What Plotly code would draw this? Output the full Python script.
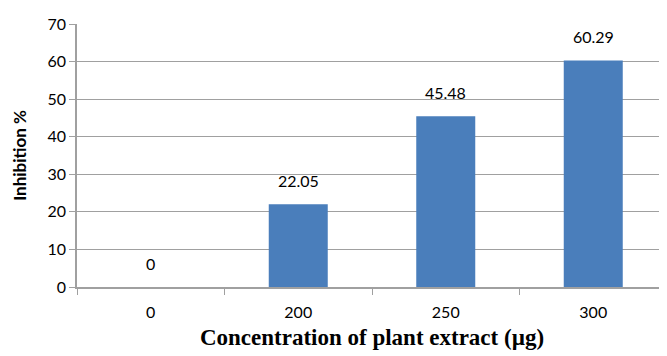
import plotly.graph_objects as go

categories = ["0", "200", "250", "300"]
inhibition = [0, 22.05, 45.48, 60.29]
labels = ["0", "22.05", "45.48", "60.29"]
y_ticks = [0, 10, 20, 30, 40, 50, 60, 70]

fig = go.Figure()
fig.add_trace(go.Bar(
    x=categories, y=inhibition,
    marker=dict(color="#4A7EBB", line=dict(width=0)),
    hoverinfo="skip",
))

for i, (v, t) in enumerate(zip(inhibition, labels)):
    fig.add_annotation(x=i, y=v, text=t, showarrow=False, yanchor="bottom", yshift=12,
                       font=dict(family="Lato, Open Sans, sans-serif", size=16, color="#000000"))

fig.update_layout(
    width=667, height=356,
    margin=dict(l=69, r=8, t=16, b=77, autoexpand=False),
    paper_bgcolor="white", plot_bgcolor="white",
    bargap=0.6,
    showlegend=False,
    xaxis=dict(
        type="category", range=[-0.5, 3.5],
        showline=True, linecolor="#A0A0A0", linewidth=1.5,
        ticks="outside", tickson="boundaries", ticklen=6, tickcolor="#A0A0A0",
        ticklabelstandoff=10,
        tickfont=dict(family="Lato, Open Sans, sans-serif", size=16, color="#000000"),
        showgrid=False,
        title=dict(text="<b>Concentration of plant extract (µg)</b>", standoff=9,
                   font=dict(family="Liberation Serif, Times New Roman, serif", size=23, color="#000000")),
    ),
    yaxis=dict(
        range=[0, 70], tickvals=y_ticks,
        showline=True, linecolor="#A0A0A0", linewidth=1.5,
        ticks="outside", ticklen=6, tickcolor="#A0A0A0",
        showgrid=True, gridcolor="#A0A0A0", gridwidth=1.2,
        zeroline=False,
        tickfont=dict(family="Lato, Open Sans, sans-serif", size=16, color="#000000"),
        title=dict(text="<b>Inhibition %</b>", standoff=17,
                   font=dict(family="Lato, Open Sans, sans-serif", size=17, color="#000000")),
    ),
)

fig.write_html("out.html")
